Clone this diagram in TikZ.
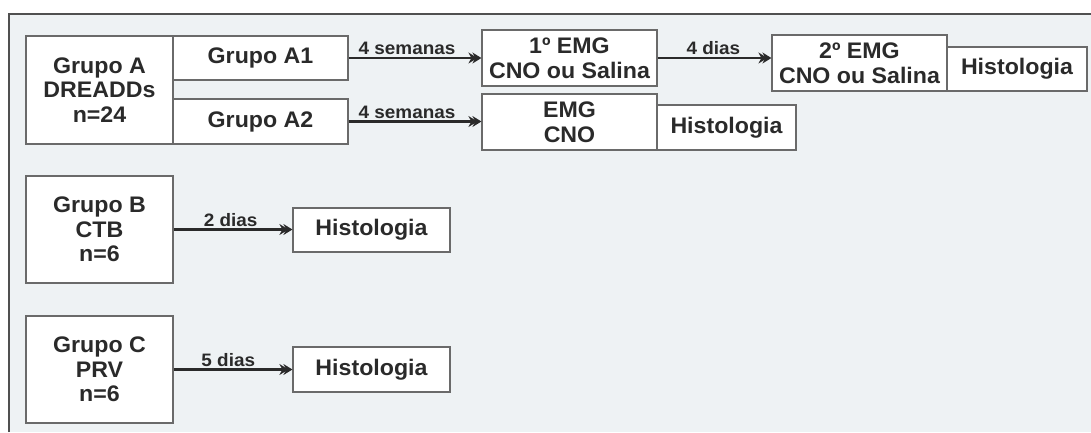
\documentclass[tikz,border=0pt]{standalone}
\usepackage{fontspec}
\setmainfont{Liberation Sans}
\newfontfamily\boxfont[FakeStretch=1.03]{Liberation Sans}
\newfontfamily\lblfont[FakeStretch=1.05]{Liberation Sans}
\usetikzlibrary{arrows.meta}
\definecolor{panelfill}{HTML}{EEF2F4}
\definecolor{panelline}{HTML}{505050}
\definecolor{boxline}{HTML}{6A6A6A}
\definecolor{txt}{HTML}{2A2A2A}
\tikzset{
  stagebox/.style={draw=boxline, line width=1.2pt, fill=white, inner sep=0pt,
    align=center, text=txt,
    font=\boxfont\bfseries\fontsize{22.5}{24.5}\selectfont},
  flow/.style={draw=txt, line width=2.6pt,
    -{Stealth[length=9pt,width=11pt,inset=3pt,sep=-5pt]Stealth[length=9pt,width=11pt,inset=3pt]}},
  lbl/.style={above, inner sep=2pt, text=txt,
    font=\lblfont\bfseries\fontsize{18}{20}\selectfont}
}
\begin{document}
\begin{tikzpicture}[x=1pt,y=-1pt]
\useasboundingbox (0,0) rectangle (1091,432);
% background panel
\fill[panelfill] (9,14) rectangle (1091,432);
\draw[panelline, line width=2.4pt] (9,432) -- (9,14) -- (1091,14);

% Group A
\node[stagebox, minimum width=147pt, minimum height=108pt] (gA) at (99.5,90) {Grupo A\\DREADDs\\n=24};
\node[stagebox, minimum width=175pt, minimum height=44pt] (gA1) at (260.5,58) {Grupo A1};
\node[stagebox, minimum width=175pt, minimum height=45pt] (gA2) at (260.5,121.5) {Grupo A2};
\node[stagebox, minimum width=175pt, minimum height=56pt] (emg1) at (569.5,58) {1º EMG\\CNO ou Salina};
\node[stagebox, minimum width=175pt, minimum height=56pt] (emg2) at (859.5,63) {2º EMG\\CNO ou Salina};
\node[stagebox, minimum width=140pt, minimum height=44pt] (hist1) at (1017,69) {Histologia};
\node[stagebox, minimum width=175pt, minimum height=56pt] (emgA2) at (569.5,122) {EMG\\CNO};
\node[stagebox, minimum width=139pt, minimum height=45pt] (hist2) at (726.5,127.5) {Histologia};

% Group B
\node[stagebox, minimum width=147pt, minimum height=107pt] (gB) at (99.5,229.5) {Grupo B\\CTB\\n=6};
\node[stagebox, minimum width=157pt, minimum height=44pt] (histB) at (371.5,230) {Histologia};

% Group C
\node[stagebox, minimum width=147pt, minimum height=107pt] (gC) at (99.5,369.5) {Grupo C\\PRV\\n=6};
\node[stagebox, minimum width=157pt, minimum height=45pt] (histC) at (371.5,369.5) {Histologia};

% connectors
\draw[flow] (gA1.east) -- node[lbl, pos=0.44] {4 semanas} (gA1.east -| emg1.west);
\draw[flow] (gA2.east) -- node[lbl, pos=0.44] {4 semanas} (gA2.east -| emgA2.west);
\draw[flow] (emg1.east) -- node[lbl, pos=0.49] {4 dias} (emg1.east -| emg2.west);
\draw[flow] (gB.east) -- node[lbl, pos=0.48] {2 dias} (gB.east -| histB.west);
\draw[flow] (gC.east) -- node[lbl, pos=0.46] {5 dias} (gC.east -| histC.west);
\end{tikzpicture}
\end{document}
